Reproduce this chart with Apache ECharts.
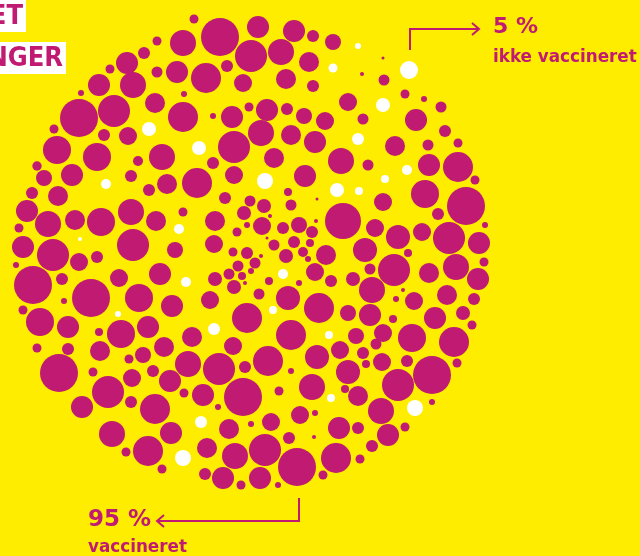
<!DOCTYPE html>
<html>
<head>
<meta charset="utf-8">
<script src="https://cdn.jsdelivr.net/npm/echarts@6/dist/echarts.min.js"></script>
<style>
html,body{margin:0;padding:0;background:#FFED00;}
#chart{width:640px;height:556px;}
</style>
</head>
<body>
<div id="chart"></div>
<script>
// Each dot: [x, y, radius] (pixel space of the 640x556 figure)
const vaccinatedDots = [
 [157,41,4.5],[144,53,6],[127,63,11],[110,69,4.5],[157,72,5.5],[99,85,11],[81,93,3],[133,85,13],[155,103,10],[114,111,16],[79,118,19],[128,136,9],[104,135,6],[54,129,4.5],[57,150,14],[97,157,14],[138,161,5],[162,157,13],[37,166,4.7],
 [44,178,8],[72,175,11],[131,176,6],[149,190,6],[167,184,10],[32,193,6],[58,196,10],[27,211,11],[48,224,13],[75,220,10],[101,222,14],[131,212,13],[156,221,10],[19,228,4.5],[23,247,11],[53,255,16],[79,262,9],[97,257,6],[133,245,16],[16,265,3],[33,285,19],[62,279,6],[119,278,9],[160,274,11],[91,298,19],[64,301,3],[139,298,14],[172,306,11],[23,310,4.5],[40,322,14],[68,327,11],[99,332,4],[121,334,14],[148,327,11],
 [37,348,4.5],[68,349,6],[100,351,10],[129,359,4.5],[143,355,8],[164,347,10],[59,373,19],[93,372,4.5],[132,378,9],[153,371,6],[170,381,11],[108,392,16],[82,407,11],[131,402,6],[155,409,15],[112,434,13],[171,433,11],[126,452,4.5],[148,451,15],[162,469,4.5],
 [194,19,4.5],[220,37,19],[258,27,11],[294,31,11],[313,36,6],[183,43,13],[251,56,16],[281,52,13],[309,62,10],[227,66,6],[177,72,11],[206,78,15],[243,83,9],[286,79,10],[313,86,6],[184,94,3],[183,117,15],[213,116,3],[232,117,11],[249,107,4.5],[267,110,11],[287,109,6],[304,116,8],[325,121,9],[234,147,16],[261,133,13],[291,135,10],[315,142,11],[274,158,10],[213,163,6],
 [197,183,15],[234,175,9],[305,176,11],[225,198,6],[250,201,5.5],[264,206,7],[244,213,7],[270,216,2],[288,192,4],[291,205,5.5],[317,199,1.5],[183,212,4.5],[215,221,10],[262,226,9],[247,225,3],[283,228,6],[299,225,8],[312,232,6],[316,221,2],[237,232,4.5],[267,238,1.5],[274,245,5.5],[294,242,6],[310,243,4],[214,244,9],[175,250,8],[233,252,4.5],[247,253,6],[286,256,7],[303,252,5],[326,255,10],[261,256,2],[255,263,5.5],[238,266,5.5],[308,259,3],[229,274,5.5],[251,271,3],[242,276,4],[315,272,9],[215,279,7],[269,281,4],[234,287,7],[245,283,2],[299,283,3],[331,281,6],[259,294,5.5],[210,300,9],[288,298,12],[319,308,15],[247,318,15],
 [192,337,10],[291,335,15],[233,346,9],[188,364,13],[219,369,16],[245,367,6],[268,361,15],[291,371,3],[317,357,12],[184,393,4.5],[203,395,11],[243,397,19],[279,391,4.5],[312,387,13],[218,407,3],[229,429,10],[251,424,3],[271,422,9],[300,415,9],[315,413,3],[314,437,2],[289,438,6],[207,448,10],[235,456,13],[265,450,16],[297,467,19],[205,474,6],[223,478,11],[241,485,4.5],[260,478,11],[278,485,3],[323,475,4.5],
 [333,42,8],[383,58,1.5],[362,74,2],[384,80,5.5],[405,94,4.5],[424,99,3],[348,102,9],[441,107,5.5],[363,119,5.5],[416,120,11],[445,131,6],[395,146,10],[428,145,5.5],[458,143,4.5],[341,161,13],[368,165,5.5],[429,165,11],[458,167,15],
 [475,180,4.5],[425,194,14],[383,202,9],[466,206,19],[343,221,18],[438,214,6],[375,228,9],[398,237,12],[422,232,9],[449,238,16],[485,225,3],[479,243,11],[365,250,12],[408,253,4],[394,270,16],[429,273,10],[456,267,13],[484,262,4.5],[370,269,5.5],[353,279,7],[478,279,11],[372,290,13],[403,290,2],[447,295,10],[396,299,3],[414,301,9],[474,299,6],[348,313,8],[370,315,11],[393,319,4],[435,318,11],[463,313,7],[472,325,4.5],
 [356,336,8],[383,333,9],[412,338,14],[454,342,15],[340,350,9],[376,344,5.5],[363,353,6],[366,364,4],[382,362,9],[407,361,6],[457,363,4.5],[348,372,12],[398,385,16],[432,375,19],[345,389,4],[358,396,10],[432,402,3],[381,411,13],[339,428,11],[358,428,6],[388,435,11],[405,427,4.5],[372,446,6],[336,458,15],[360,459,4.5]
];
const unvaccinatedDots = [
 [149,129,7],[106,184,5],[80,239,2],[118,314,3],[199,148,7],[265,181,8],[333,68,4.5],[358,46,3],[409,70,9],[383,105,7],[358,139,6],[407,170,5],[337,190,7],[359,191,4],[385,179,4],[179,229,5],[186,282,5],[283,274,5],[273,310,4],[214,329,6],[329,335,4],[331,398,4],[201,422,6],[183,458,8],[415,408,8]
];
const headerFragments = ['ET', 'NGER'];
const shareLabels = ['5 %', '95 %'];
const groupLabels = ['ikke vaccineret', 'vaccineret'];

const MAGENTA = '#C01A72';
const YELLOW = '#FFED00';
const FONT = '"DejaVu Sans", sans-serif';
const NARROW = '"Liberation Sans Narrow", "DejaVu Sans Condensed", "DejaVu Sans", sans-serif';

const chart = echarts.init(document.getElementById('chart'), null, {renderer: 'canvas'});
chart.setOption({
  backgroundColor: YELLOW,
  animation: false,
  grid: {left: 0, right: 0, top: 0, bottom: 0},
  xAxis: {type: 'value', min: 0, max: 640, show: false},
  yAxis: {type: 'value', min: 0, max: 556, inverse: true, show: false},
  series: [
    {type: 'scatter', data: vaccinatedDots, symbol: 'circle',
     symbolSize: d => d[2] * 2, itemStyle: {color: MAGENTA, opacity: 1}, silent: true},
    {type: 'scatter', data: unvaccinatedDots, symbol: 'circle',
     symbolSize: d => d[2] * 2, itemStyle: {color: '#FFFFFF', opacity: 1}, silent: true}
  ],
  graphic: [
    {type: 'rect', shape: {x: 0, y: 0, width: 26, height: 32}, style: {fill: '#FFFFFF'}},
    {type: 'text', right: 640 - 23, top: 3, style: {text: headerFragments[0], fill: MAGENTA, font: 'bold 27px ' + NARROW}},
    {type: 'rect', shape: {x: 0, y: 42, width: 66, height: 32}, style: {fill: '#FFFFFF'}},
    {type: 'text', right: 640 - 63, top: 45, style: {text: headerFragments[1], fill: MAGENTA, font: 'bold 27px ' + NARROW}},

    {type: 'polyline', shape: {points: [[410, 50], [410, 29], [479, 29]]}, style: {stroke: MAGENTA, lineWidth: 2, fill: null}},
    {type: 'polyline', shape: {points: [[472, 23], [479, 29], [472, 35]]}, style: {stroke: MAGENTA, lineWidth: 2, fill: null}},
    {type: 'text', left: 493, top: 16, style: {text: shareLabels[0], fill: MAGENTA, font: 'bold 22px ' + FONT}},
    {type: 'text', left: 493, top: 49, style: {text: groupLabels[0], fill: MAGENTA, font: 'bold 16.8px ' + FONT}},

    {type: 'polyline', shape: {points: [[299, 498], [299, 521], [157, 521]]}, style: {stroke: MAGENTA, lineWidth: 2, fill: null}},
    {type: 'polyline', shape: {points: [[164, 515], [157, 521], [164, 527]]}, style: {stroke: MAGENTA, lineWidth: 2, fill: null}},
    {type: 'text', left: 88, top: 509, style: {text: shareLabels[1], fill: MAGENTA, font: 'bold 23px ' + FONT}},
    {type: 'text', left: 88, top: 539, style: {text: groupLabels[1], fill: MAGENTA, font: 'bold 16.8px ' + FONT}}
  ]
});
</script>
</body>
</html>
